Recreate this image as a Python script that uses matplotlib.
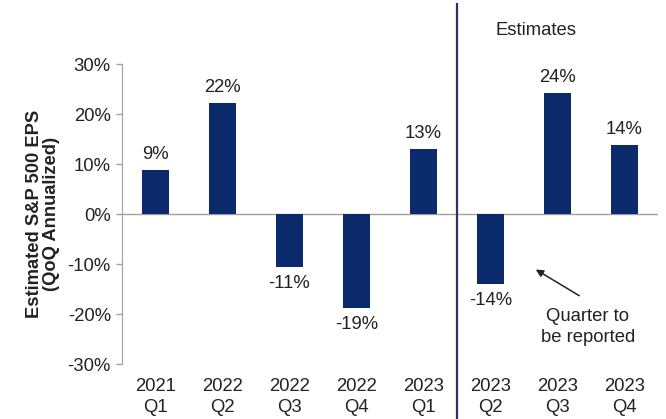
import matplotlib
matplotlib.use("Agg")
import matplotlib.pyplot as plt

categories = ["2021\nQ1", "2022\nQ2", "2022\nQ3", "2022\nQ4", "2023\nQ1", "2023\nQ2", "2023\nQ3", "2023\nQ4"]
values = [8.9, 22.3, -10.6, -18.7, 13.0, -14.0, 24.2, 13.8]
labels = ["9%", "22%", "-11%", "-19%", "13%", "-14%", "24%", "14%"]
yticks = [-30, -20, -10, 0, 10, 20, 30]

plt.rcParams['font.family'] = ['Liberation Sans', 'DejaVu Sans']
text_color = '#222222'
bar_color = '#0b2a6b'
fs = 13.3

fig = plt.figure(figsize=(6.66, 4.19), dpi=100)
ax = fig.add_axes([0.183, 0.131, 0.805, 0.716])

x = list(range(len(categories)))
ax.bar(x, values, width=0.4, color=bar_color, zorder=3)

for xi, v, lab in zip(x, values, labels):
    if v >= 0:
        ax.annotate(lab, (xi, v), xytext=(0, 5), textcoords='offset points',
                    ha='center', va='bottom', fontsize=fs, color=text_color)
    else:
        ax.annotate(lab, (xi, v), xytext=(0, -6), textcoords='offset points',
                    ha='center', va='top', fontsize=fs, color=text_color)

ax.set_xlim(-0.5, len(categories) - 0.5)
ax.set_ylim(-30, 30)
ax.set_yticks(yticks)
ax.set_yticklabels([f"{t}%" for t in yticks], fontsize=fs, color=text_color)
ax.set_xticks(x)
ax.set_xticklabels(categories, fontsize=fs, color=text_color, linespacing=1.3)
ax.tick_params(axis='x', length=0, pad=10)
ax.tick_params(axis='y', length=4, color='#a0a0a0', width=1, pad=4)

for s in ['top', 'right', 'bottom']:
    ax.spines[s].set_visible(False)
ax.spines['left'].set_color('#a0a0a0')

ax.axhline(0, color='#a0a0a0', lw=1, zorder=2)

ax.plot([4.5, 4.5], [42, -42], color='#26375a', lw=1.6, clip_on=False, zorder=4)

ax.text(5.68, 36.8, "Estimates", ha='center', va='center', fontsize=fs,
        color=text_color, clip_on=False)

ax.annotate("", xy=(5.64, -10.8), xytext=(6.36, -16.6),
            arrowprops=dict(arrowstyle='-|>', color='#222222', lw=1.1, mutation_scale=11))
ax.text(6.45, -22.6, "Quarter to\nbe reported", ha='center', va='center',
        fontsize=fs, color=text_color, linespacing=1.3)

ax.set_ylabel("Estimated S&P 500 EPS\n(QoQ Annualized)", fontsize=13.2,
              fontweight='bold', color=text_color, linespacing=1.05)
ax.yaxis.set_label_coords(-0.115, 0.5)

fig.savefig("out.png", dpi=100)
